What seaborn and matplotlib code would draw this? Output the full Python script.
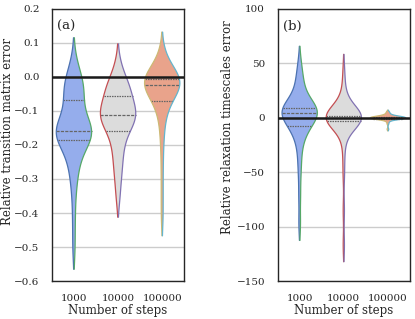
import numpy as np
import pandas as pd
import seaborn as sns
import matplotlib.pyplot as plt

steps = ["1000", "10000", "100000"]

# (a) relative transition matrix error, samples
trans_1000 = [-0.50, -0.42, -0.35, -0.31, -0.28, -0.26, -0.245, -0.23, -0.215, -0.20,
              -0.185, -0.182, -0.179, -0.176, -0.173, -0.17, -0.168, -0.166, -0.164, -0.162,
              -0.16, -0.155, -0.15, -0.145, -0.138, -0.13, -0.12, -0.11, -0.095, -0.08,
              -0.068, -0.058, -0.048, -0.04, -0.032, -0.024, -0.016, -0.008, 0.0, 0.015, 0.05]
trans_10000 = [-0.36, -0.32, -0.29, -0.27, -0.25, -0.23, -0.215, -0.20, -0.185, -0.172,
               -0.16, -0.154, -0.148, -0.142, -0.136, -0.13, -0.125, -0.12, -0.116, -0.114,
               -0.112, -0.108, -0.104, -0.10, -0.095, -0.09, -0.084, -0.077, -0.07, -0.063,
               -0.057, -0.05, -0.044, -0.038, -0.032, -0.025, -0.018, -0.01, 0.0, 0.015, 0.045]
trans_100000 = [-0.41, -0.34, -0.27, -0.21, -0.17, -0.14, -0.12, -0.10, -0.088, -0.078,
                -0.07, -0.063, -0.057, -0.052, -0.047, -0.042, -0.038, -0.034, -0.03, -0.026,
                -0.023, -0.021, -0.019, -0.017, -0.015, -0.013, -0.011, -0.009, -0.008, -0.006,
                -0.005, -0.002, 0.002, 0.007, 0.012, 0.018, 0.024, 0.03, 0.04, 0.055, 0.075]

# (b) relative relaxation timescales error
ts_1000 = [-97, -72, -52, -40, -30, -22, -17, -13, -11, -9.5,
           -8, -6, -4, -2, 0, 1, 2, 3, 3.5, 4,
           4.5, 5, 5.5, 6, 6.5, 7, 7.5, 8, 8.3, 8.7,
           9, 11, 13, 16, 19, 23, 27, 31, 36, 42, 50]
ts_10000 = [-117, -85, -52, -35, -22, -15, -10, -7, -5, -4,
            -3, -2.6, -2.2, -1.8, -1.5, -1.2, -0.9, -0.6, -0.4, -0.2,
            0, 0.2, 0.4, 0.6, 0.8, 1.0, 1.2, 1.4, 1.6, 1.8,
            2, 3, 4, 5.5, 7, 9, 12, 16, 21, 30, 43]
ts_100000 = [-10.6, -5.5, -3.5, -2.5, -2, -1.7, -1.5, -1.3, -1.2, -1.1,
             -1.0, -0.9, -0.8, -0.7, -0.6, -0.5, -0.4, -0.3, -0.2, -0.1,
             0, 0.1, 0.2, 0.3, 0.4, 0.5, 0.6, 0.7, 0.8, 0.9,
             1.0, 1.1, 1.2, 1.4, 1.6, 1.9, 2.3, 2.8, 3.5, 4.5, 5.6]

fill_colors = ["#95adec", "#dcdcdc", "#e9a38b"]
# old seaborn "deep" cycle used for the violin outlines
edge_colors = ["#4C72B0", "#55A868", "#C44E52", "#8172B2", "#CCB974", "#64B5CD"]


def long_frame(groups):
    rows = []
    for s, vals in zip(steps, groups):
        rows += [(s, v) for v in vals]
    return pd.DataFrame(rows, columns=["steps", "value"])


def draw_panel(ax, df):
    sns.violinplot(data=df, x="steps", y="value", hue="steps", order=steps,
                   hue_order=steps, palette=fill_colors, saturation=1, cut=1.5,
                   bw_adjust=0.8, density_norm="width", inner="quart", linewidth=0.9,
                   inner_kws={"color": "0.4", "linewidth": 0.9},
                   legend=False, ax=ax)
    # recolor outlines: left half / right half of each violin from the deep cycle
    k = 0
    for i, coll in enumerate(ax.collections[:len(steps)]):
        coll.set_edgecolor("none")
        v = coll.get_paths()[0].vertices
        for side in (v[v[:, 0] < i], v[v[:, 0] > i]):
            side = side[np.argsort(side[:, 1])]
            ax.plot(side[:, 0], side[:, 1], color=edge_colors[k], lw=0.9, zorder=3)
            k += 1
    ax.axhline(0, color="k", lw=1.8, zorder=5)
    ax.grid(axis="x", visible=False)
    ax.set_xlabel("Number of steps", fontsize=8.5, labelpad=1)
    for sp in ax.spines.values():
        sp.set_color("0.15")
        sp.set_linewidth(1.0)


sns.set_theme(style="whitegrid")
plt.rcParams["font.family"] = ["DejaVu Serif"]
plt.rcParams["grid.color"] = "0.8"
plt.rcParams["text.color"] = "0.15"
plt.rcParams["axes.labelcolor"] = "0.15"
plt.rcParams["xtick.color"] = "0.15"
plt.rcParams["ytick.color"] = "0.15"

fig, (ax1, ax2) = plt.subplots(1, 2, figsize=(4.15, 3.19), dpi=100)
fig.subplots_adjust(left=0.125, right=0.988, top=0.972, bottom=0.119, wspace=0.705)

draw_panel(ax1, long_frame([trans_1000, trans_10000, trans_100000]))
ax1.set_ylim(-0.6, 0.2)
ax1.set_yticks(np.arange(-0.6, 0.21, 0.1))
ax1.set_ylabel("Relative transition matrix error", fontsize=8.5)
ax1.yaxis.set_label_coords(-0.285, 0.55)
ax1.text(0.04, 0.96, "(a)", transform=ax1.transAxes, ha="left", va="top", fontsize=9.5)

draw_panel(ax2, long_frame([ts_1000, ts_10000, ts_100000]))
ax2.set_ylim(-150, 100)
ax2.set_yticks([-150, -100, -50, 0, 50, 100])
ax2.set_ylabel("Relative relaxation timescales error", fontsize=8.5)
ax2.yaxis.set_label_coords(-0.33, 0.565)
ax2.text(0.04, 0.96, "(b)", transform=ax2.transAxes, ha="left", va="top", fontsize=9.5)

for ax in (ax1, ax2):
    ax.tick_params(labelsize=7.5, pad=3)
    ax.set_xlim(-0.5, 2.5)

fig.savefig("out.png", dpi=100)
